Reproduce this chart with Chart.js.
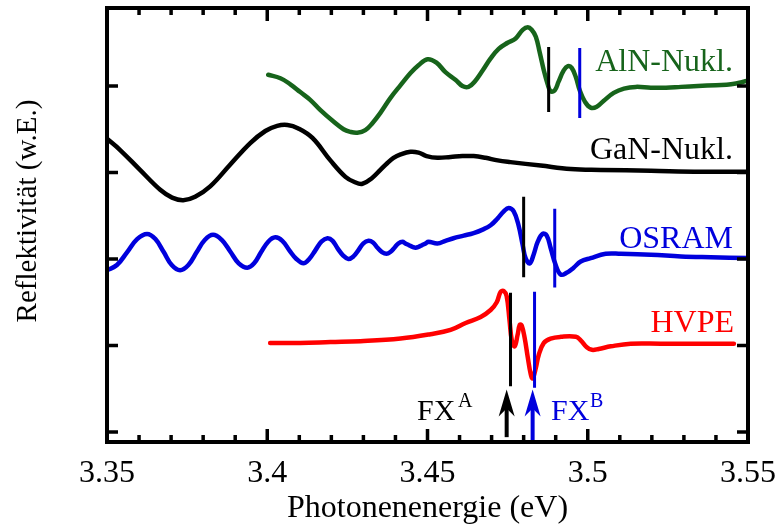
<!DOCTYPE html>
<html>
<head>
<meta charset="utf-8">
<script src="https://cdn.jsdelivr.net/npm/chart.js@4/dist/chart.umd.min.js"></script>
<style>
  body { margin: 0; background: #fff; }
  #wrap { width: 776px; height: 525px; }
</style>
</head>
<body>
<div id="wrap"><canvas id="chart" width="776" height="525"></canvas></div>
<script>
// --- data (x: photon energy in eV, y: reflectivity, arb. units, curves offset) ---
const alnX = [3.4003,3.4041,3.4072,3.4103,3.4134,3.4166,3.4203,3.4238,3.4259,3.4281,3.4306,3.4328,3.4353,3.4384,3.4416,3.4447,3.4472,3.45,3.4528,3.4556,3.4588,3.4609,3.4628,3.4647,3.4672,3.4697,3.4722,3.475,3.4775,3.4797,3.4813,3.4825,3.4838,3.485,3.4863,3.4875,3.4884,3.4897,3.4909,3.4925,3.4938,3.495,3.4963,3.4975,3.4991,3.5009,3.5028,3.505,3.5081,3.5113,3.515,3.5197,3.5244,3.5291,3.5344,3.54,3.5447,3.55];
const alnY = [4.13,4.09,4.02,3.93,3.84,3.72,3.60,3.50,3.47,3.46,3.49,3.57,3.69,3.86,4.01,4.15,4.24,4.31,4.27,4.16,4.07,4.00,3.99,4.05,4.18,4.32,4.43,4.50,4.55,4.65,4.68,4.65,4.57,4.39,4.18,4.02,3.94,3.95,4.05,4.18,4.23,4.21,4.10,3.95,3.82,3.75,3.76,3.83,3.92,3.97,3.99,3.98,3.98,3.99,4.00,4.01,4.02,4.06];

const ganX = [3.35,3.3541,3.3603,3.3666,3.3703,3.3738,3.3775,3.3822,3.3884,3.3947,3.3994,3.4031,3.4063,3.4097,3.4141,3.4197,3.4244,3.4272,3.4297,3.4328,3.4353,3.4375,3.4394,3.4416,3.4447,3.4472,3.4497,3.4531,3.4572,3.4609,3.4644,3.4681,3.4719,3.4759,3.4853,3.4947,3.5041,3.5197,3.5353,3.55];
const ganY = [3.39,3.26,3.03,2.80,2.71,2.68,2.72,2.84,3.09,3.34,3.48,3.54,3.55,3.51,3.40,3.14,2.95,2.89,2.87,2.94,3.03,3.11,3.17,3.21,3.24,3.23,3.19,3.17,3.18,3.19,3.19,3.17,3.14,3.12,3.08,3.04,3.03,3.02,3.01,3.01];

const osramX = [3.35,3.3531,3.3563,3.3594,3.3625,3.3651,3.3677,3.3702,3.3728,3.3754,3.378,3.3805,3.3831,3.3858,3.3884,3.3911,3.3938,3.3959,3.3981,3.4003,3.4025,3.4047,3.4069,3.4091,3.4113,3.4131,3.415,3.4169,3.4188,3.4204,3.422,3.4237,3.4253,3.4269,3.4284,3.43,3.4316,3.433,3.4344,3.4358,3.4372,3.4384,3.4397,3.4409,3.4422,3.4431,3.4442,3.4453,3.4463,3.4472,3.4483,3.4494,3.4503,3.4531,3.4556,3.4581,3.4613,3.4644,3.4672,3.4697,3.4719,3.4738,3.4753,3.4769,3.4784,3.4797,3.4806,3.4819,3.4831,3.4844,3.4859,3.4872,3.4884,3.49,3.4916,3.4934,3.4956,3.4978,3.5009,3.5056,3.5103,3.5197,3.5291,3.5384,3.55];
const osramY = [1.87,1.93,2.08,2.23,2.29,2.23,2.08,1.93,1.87,1.93,2.08,2.22,2.28,2.22,2.09,1.95,1.90,1.95,2.08,2.20,2.25,2.21,2.10,2.00,1.95,2.00,2.10,2.20,2.24,2.21,2.12,2.04,2.00,2.03,2.10,2.18,2.21,2.19,2.13,2.08,2.06,2.08,2.13,2.18,2.20,2.18,2.16,2.14,2.13,2.14,2.16,2.18,2.20,2.18,2.21,2.24,2.27,2.30,2.34,2.39,2.47,2.55,2.59,2.55,2.39,2.16,2.01,1.95,2.05,2.20,2.29,2.27,2.13,1.93,1.82,1.84,1.90,1.97,2.01,2.06,2.06,2.05,2.03,2.02,2.01];

const hvpeX = [3.4009,3.4103,3.4197,3.4291,3.4416,3.4509,3.4572,3.4619,3.4666,3.4697,3.4716,3.4728,3.4738,3.4747,3.4756,3.4763,3.4772,3.4781,3.4788,3.4794,3.4803,3.4813,3.4822,3.4828,3.4838,3.4847,3.4863,3.4884,3.4916,3.4963,3.4978,3.4997,3.5013,3.5034,3.5072,3.5134,3.5228,3.5353,3.5456];
const hvpeY = [1.03,1.03,1.04,1.05,1.08,1.13,1.18,1.26,1.33,1.41,1.50,1.62,1.63,1.57,1.29,1.06,0.99,1.12,1.24,1.23,1.09,0.86,0.67,0.62,0.74,0.89,1.03,1.08,1.10,1.10,1.06,0.98,0.95,0.96,0.99,1.02,1.02,1.02,1.02];

// exciton markers: [x, yTop, yBottom]
const markerA = [[3.4878, 4.45, 3.70], [3.48, 2.72, 1.79], [3.4759, 1.61, 0.53]];
const markerB = [[3.4975, 4.44, 3.63], [3.4897, 2.58, 1.67], [3.4834, 1.62, 0.51]];

// arrows under HVPE: x, tip, bottom
const arrowX = [3.4747, 3.4828];
const arrowTip = [0.49, 0.49];
const arrowBottom = [-0.06, -0.12];

const xMajor = [3.35, 3.40, 3.45, 3.50, 3.55];
const xLabels = ['3.35', '3.4', '3.45', '3.5', '3.55'];
const xMinor = [3.36, 3.37, 3.38, 3.39, 3.41, 3.42, 3.43, 3.44, 3.46, 3.47, 3.48, 3.49, 3.51, 3.52, 3.53, 3.54];
const yTicks = [0, 1, 2, 3, 4];

const GREEN = '#17641b';
const BLUE = '#0000dd';
const RED = '#ff0000';
const SERIF = '"Liberation Serif", "Times New Roman", serif';

const pts = (xs, ys) => xs.map((x, i) => ({ x: x, y: ys[i] }));

function curve(data, color) {
    return {
        data: data, borderColor: color, borderWidth: 4.5,
        pointRadius: 0, tension: 0.4, fill: false,
        borderJoinStyle: 'round', borderCapStyle: 'round'
    };
}
function segment(x, y0, y1, color, w) {
    return {
        data: [{ x: x, y: y0 }, { x: x, y: y1 }], borderColor: color, borderWidth: w,
        pointRadius: 0, fill: false
    };
}

const datasets = [];
// arrows + marker lines on top
arrowX.forEach((x, i) => datasets.push(segment(x, arrowBottom[i], arrowTip[i] - 0.2, i === 0 ? '#000' : BLUE, 4)));
markerA.forEach(m => datasets.push(segment(m[0], m[1], m[2], '#000', 3)));
markerB.forEach(m => datasets.push(segment(m[0], m[1], m[2], BLUE, 3)));
datasets.push(curve(pts(alnX, alnY), GREEN));
datasets.push(curve(pts(ganX, ganY), '#000'));
datasets.push(curve(pts(osramX, osramY), BLUE));
datasets.push(curve(pts(hvpeX, hvpeY), RED));

// frame, inward ticks, labels and annotations
const decor = {
    id: 'decor',
    afterDatasetsDraw(chart) {
        const ctx = chart.ctx;
        const a = chart.chartArea;
        const xs = chart.scales.x, ys = chart.scales.y;
        ctx.save();

        // arrow heads
        arrowX.forEach((x, i) => {
            const px = xs.getPixelForValue(x), py = ys.getPixelForValue(arrowTip[i]);
            ctx.fillStyle = i === 0 ? '#000' : BLUE;
            ctx.beginPath();
            ctx.moveTo(px, py);
            ctx.lineTo(px + 8, py + 27);
            ctx.lineTo(px, py + 19);
            ctx.lineTo(px - 8, py + 27);
            ctx.closePath();
            ctx.fill();
        });

        ctx.strokeStyle = '#000';
        ctx.lineWidth = 3.5;
        ctx.beginPath();
        xMajor.forEach(v => {
            const px = xs.getPixelForValue(v);
            ctx.moveTo(px, a.bottom); ctx.lineTo(px, a.bottom - 13);
            ctx.moveTo(px, a.top); ctx.lineTo(px, a.top + 13);
        });
        xMinor.forEach(v => {
            const px = xs.getPixelForValue(v);
            ctx.moveTo(px, a.bottom); ctx.lineTo(px, a.bottom - 7);
            ctx.moveTo(px, a.top); ctx.lineTo(px, a.top + 7);
        });
        yTicks.forEach(v => {
            const py = ys.getPixelForValue(v);
            ctx.moveTo(a.left, py); ctx.lineTo(a.left + 11, py);
            ctx.moveTo(a.right, py); ctx.lineTo(a.right - 11, py);
        });
        ctx.stroke();

        ctx.lineWidth = 4;
        ctx.strokeRect(a.left, a.top, a.right - a.left, a.bottom - a.top);

        // tick labels
        ctx.fillStyle = '#000';
        ctx.font = '32px ' + SERIF;
        ctx.textAlign = 'center';
        ctx.textBaseline = 'alphabetic';
        xMajor.forEach((v, i) => ctx.fillText(xLabels[i], xs.getPixelForValue(v), 482));

        // axis titles
        ctx.fillText('Photonenenergie (eV)', (a.left + a.right) / 2, 517);
        ctx.save();
        ctx.translate(36, 211);
        ctx.rotate(-Math.PI / 2);
        ctx.font = '29px ' + SERIF;
        ctx.fillText('Reflektivität (w.E.)', 0, 0);
        ctx.restore();

        // curve names
        ctx.textAlign = 'right';
        ctx.fillStyle = GREEN; ctx.fillText('AlN-Nukl.', 733, 71);
        ctx.fillStyle = '#000'; ctx.fillText('GaN-Nukl.', 733, 159);
        ctx.fillStyle = BLUE; ctx.fillText('OSRAM', 733, 248);
        ctx.fillStyle = RED; ctx.fillText('HVPE', 734, 332);

        // FX^A, FX^B
        ctx.textAlign = 'left';
        ctx.font = '30px ' + SERIF;
        ctx.fillStyle = '#000'; ctx.fillText('FX', 417, 420);
        ctx.fillStyle = BLUE; ctx.fillText('FX', 551, 420);
        ctx.font = '20px ' + SERIF;
        ctx.fillStyle = '#000'; ctx.fillText('A', 458, 407);
        ctx.fillStyle = BLUE; ctx.fillText('B', 590, 407);

        ctx.restore();
    }
};

new Chart(document.getElementById('chart'), {
    type: 'line',
    data: { datasets: datasets },
    options: {
        responsive: false,
        animation: false,
        layout: { padding: { left: 107, right: 28, top: 8, bottom: 83 } },
        plugins: { legend: { display: false }, tooltip: { enabled: false } },
        scales: {
            x: { type: 'linear', min: 3.35, max: 3.55, display: false },
            y: { type: 'linear', min: -0.116, max: 4.902, display: false }
        }
    },
    plugins: [decor]
});
</script>
</body>
</html>
